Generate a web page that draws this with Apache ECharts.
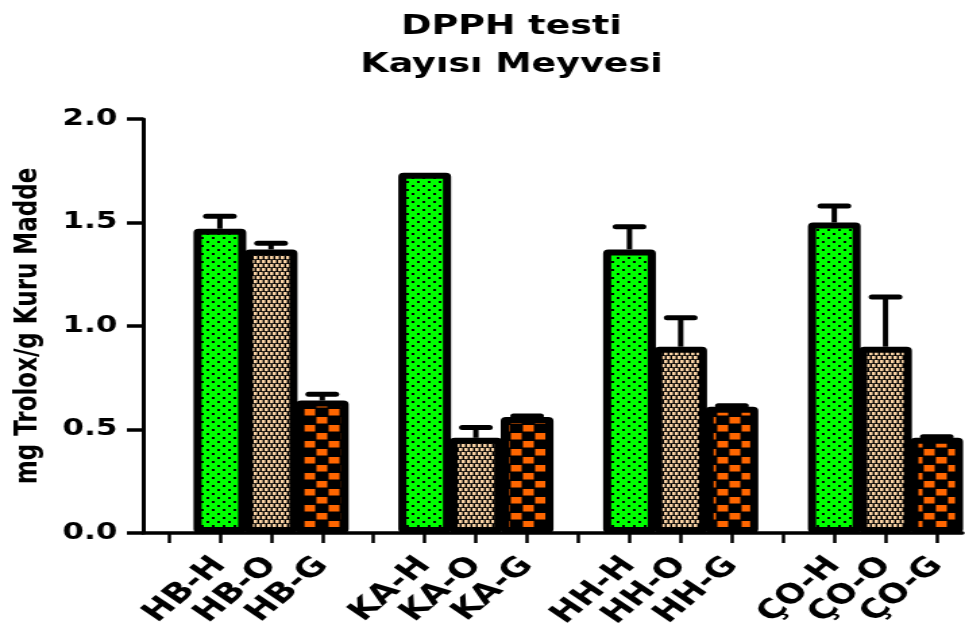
<!DOCTYPE html>
<html>
<head>
<meta charset="utf-8">
<title>DPPH testi - Kayısı Meyvesi</title>
<script src="https://cdn.jsdelivr.net/npm/echarts@6/dist/echarts.min.js"></script>
<style>
  html, body { margin: 0; padding: 0; background: #fff; }
  #wrap { width: 965px; height: 639px; overflow: hidden; position: relative; }
  /* The figure is drawn on a narrower canvas and widened horizontally. */
  #chart { width: 715px; height: 639px; transform-origin: 0 0; }
</style>
</head>
<body>
<div id="wrap"><div id="chart"></div></div>
<script>
// Sample groups and extraction types
const groups = ['HB', 'KA', 'HH', 'ÇO'];
const treatments = ['H', 'O', 'G'];

// Mean antioxidant capacity (mg Trolox/g dry matter) per group
const meanH = [1.47, 1.74, 1.37, 1.50];
const meanO = [1.37, 0.46, 0.90, 0.90];
const meanG = [0.64, 0.56, 0.61, 0.46];

// Upper error (SEM) per group
const errH = [0.06, 0.00, 0.11, 0.08];
const errO = [0.03, 0.05, 0.14, 0.24];
const errG = [0.03, 0.005, 0.005, 0.005];

// Value axis ticks
const yTicks = [0.0, 0.5, 1.0, 1.5, 2.0];

const W = 715, H = 639, SX = 965 / W;
document.getElementById('chart').style.transform = 'scaleX(' + SX + ')';

// ---- fill patterns ----
function makeTile(w, h, draw) {
  const c = document.createElement('canvas');
  c.width = w; c.height = h;
  draw(c.getContext('2d'), w, h);
  return c;
}
const greenDots = makeTile(8, 8, (g, w, h) => {
  g.fillStyle = '#00ff00'; g.fillRect(0, 0, w, h);
  g.fillStyle = '#000';
  g.fillRect(1, 1, 2, 2);
  g.fillRect(5, 5, 2, 2);
});
const beigeCheck = makeTile(4, 8, (g, w, h) => {
  g.fillStyle = '#000'; g.fillRect(0, 0, w, h);
  g.fillStyle = '#f9d2a4';
  g.fillRect(0, 0, 2.6, 3.2);
  g.fillRect(2, 4, 2.6, 3.2);
  g.fillRect(-2, 4, 2.6, 3.2);
});
const orangeCheck = makeTile(18, 16, (g, w, h) => {
  g.fillStyle = '#000'; g.fillRect(0, 0, w, h);
  g.fillStyle = '#ff6600';
  g.fillRect(0.5, 1, 8, 6.5);
  g.fillRect(9.5, 9, 8, 6.5);
});
const fills = {
  H: { image: greenDots, repeat: 'repeat' },
  O: { image: beigeCheck, repeat: 'repeat' },
  G: { image: orangeCheck, repeat: 'repeat' }
};

// ---- build categories: a blank slot before each group ----
const means = { H: meanH, O: meanO, G: meanG };
const errs = { H: errH, O: errO, G: errG };
const categories = [];
const barData = [];
const errData = [];
groups.forEach((grp, gi) => {
  categories.push(' '.repeat(gi + 1));
  barData.push('-');
  treatments.forEach(t => {
    const idx = categories.length;
    categories.push(grp + '-' + t);
    barData.push({
      value: means[t][gi],
      itemStyle: { color: fills[t] }
    });
    errData.push([idx, means[t][gi], errs[t][gi]]);
  });
});

const FONT = '"DejaVu Sans", Verdana, sans-serif';

const chart = echarts.init(document.getElementById('chart'), null, {
  renderer: 'canvas', width: W, height: H
});

chart.setOption({
  animation: false,
  backgroundColor: '#ffffff',
  title: {
    text: 'DPPH testi\nKayısı Meyvesi',
    left: 374,
    top: 3,
    textAlign: 'center',
    textStyle: {
      fontFamily: FONT, fontWeight: 'bold', fontSize: 27,
      lineHeight: 38, color: '#000'
    }
  },
  grid: { left: 106, right: 2, top: 119, bottom: 106, containLabel: false },
  xAxis: {
    type: 'category',
    data: categories,
    boundaryGap: true,
    axisLine: { show: true, onZero: true, lineStyle: { color: '#000', width: 3.5 } },
    axisTick: {
      show: true, alignWithLabel: true, interval: 0, length: 10, inside: false,
      lineStyle: { color: '#000', width: 2.5 }
    },
    axisLabel: {
      interval: 0, rotate: 48, margin: 28,
      fontFamily: FONT, fontWeight: 'bold', fontSize: 27, color: '#000'
    },
    splitLine: { show: false }
  },
  yAxis: {
    type: 'value',
    min: yTicks[0],
    max: yTicks[yTicks.length - 1],
    interval: 0.5,
    name: 'mg Trolox/g Kuru Madde',
    nameLocation: 'middle',
    nameGap: 73,
    nameTextStyle: {
      fontFamily: FONT, fontWeight: 'bold', fontSize: 23, color: '#000'
    },
    axisLine: { show: true, lineStyle: { color: '#000', width: 3 } },
    axisTick: { show: true, length: 12, inside: false, lineStyle: { color: '#000', width: 3.5 } },
    axisLabel: {
      margin: 19,
      fontFamily: FONT, fontWeight: 'bold', fontSize: 23, color: '#000',
      formatter: v => v.toFixed(1)
    },
    splitLine: { show: false }
  },
  series: [
    {
      type: 'bar',
      data: barData,
      barWidth: '103%',
      itemStyle: { borderColor: '#000', borderWidth: 6, borderRadius: 1 },
      z: 2
    },
    {
      type: 'custom',
      data: errData,
      z: 3,
      renderItem: (params, api) => {
        if (!(api.value(2) > 0)) return null;
        const base = api.coord([api.value(0), api.value(1)]);
        const top = api.coord([api.value(0), api.value(1) + api.value(2)]);
        const half = 10;
        return {
          type: 'group',
          children: [
            {
              type: 'line',
              shape: { x1: base[0], y1: base[1], x2: top[0], y2: top[1] },
              style: { stroke: '#000', lineWidth: 4 }
            },
            {
              type: 'line',
              shape: { x1: top[0] - half, y1: top[1], x2: top[0] + half, y2: top[1] },
              style: { stroke: '#000', lineWidth: 5, lineCap: 'round' }
            }
          ]
        };
      }
    }
  ]
});
</script>
</body>
</html>
